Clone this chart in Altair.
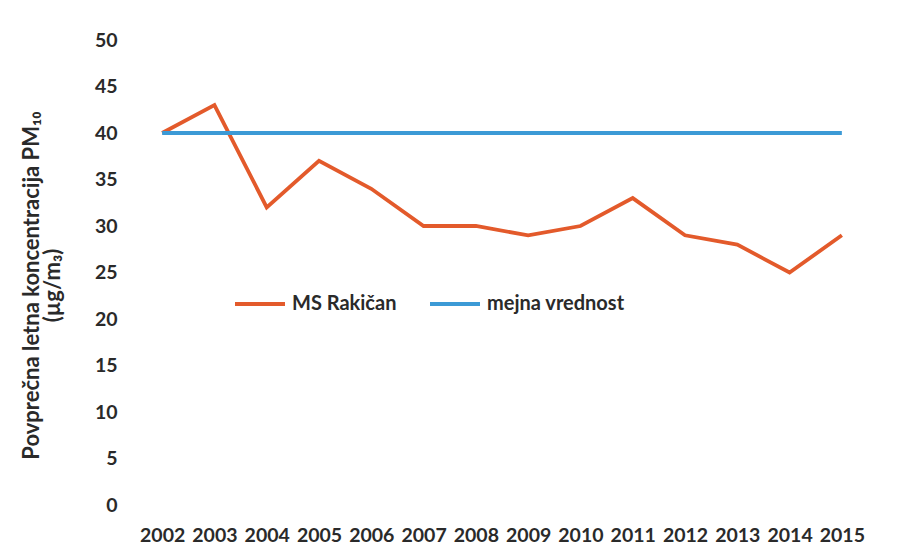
import altair as alt
import pandas as pd

years = [2002, 2003, 2004, 2005, 2006, 2007, 2008, 2009, 2010, 2011, 2012, 2013, 2014, 2015]
rakican = [40, 43, 32, 37, 34, 30, 30, 29, 30, 33, 29, 28, 25, 29]
limit = [40] * len(years)
series_names = ["MS Rakičan", "mejna vrednost"]
series_colors = ["#E35A2B", "#3C9AD6"]

rows = []
for y, v in zip(years, rakican):
    rows.append({"year": str(y), "value": v, "series": series_names[0]})
for y, v in zip(years, limit):
    rows.append({"year": str(y), "value": v, "series": series_names[1]})
df = pd.DataFrame(rows)

FONT = "Lato"
TXT = "#2a2a2a"

chart = alt.Chart(df).mark_line(strokeWidth=3.8).encode(
    x=alt.X("year:O", title=None, sort=[str(y) for y in years],
            scale=alt.Scale(type="point", padding=0.5),
            axis=alt.Axis(labelAngle=0, labelPadding=21, ticks=False, domain=False,
                          grid=False, labelFontSize=19.5, labelFont=FONT,
                          labelFontWeight="bold", labelColor=TXT)),
    y=alt.Y("value:Q", scale=alt.Scale(domain=[0, 50]),
            title=["Povprečna letna koncentracija PM₁₀", "(µg/m₃)"],
            axis=alt.Axis(values=list(range(0, 51, 5)), ticks=False, domain=False,
                          grid=False, labelPadding=19, labelFontSize=19.5, labelFont=FONT,
                          labelFontWeight="bold", labelColor=TXT,
                          titleFont=FONT, titleFontSize=22, titleFontWeight="bold",
                          titleColor=TXT, titlePadding=30, titleLineHeight=21,
                          titleY=245)),
    color=alt.Color("series:N", sort=series_names,
                    scale=alt.Scale(domain=series_names, range=series_colors),
                    legend=alt.Legend(title=None, orient="none", legendX=97, legendY=237,
                                      direction="horizontal", symbolType="stroke",
                                      symbolSize=2500, symbolStrokeWidth=4,
                                      labelFont=FONT, labelFontSize=20,
                                      labelFontWeight="bold", labelColor=TXT,
                                      columnPadding=25, labelOffset=5)),
).properties(
    width=732, height=465,
    autosize=alt.AutoSizeParams(type="none"),
    padding={"left": 128, "top": 32, "right": 31, "bottom": 40},
).configure(background="white").configure_view(stroke=None)

chart.save("out.html", embed_options={"renderer": "svg", "actions": False})
